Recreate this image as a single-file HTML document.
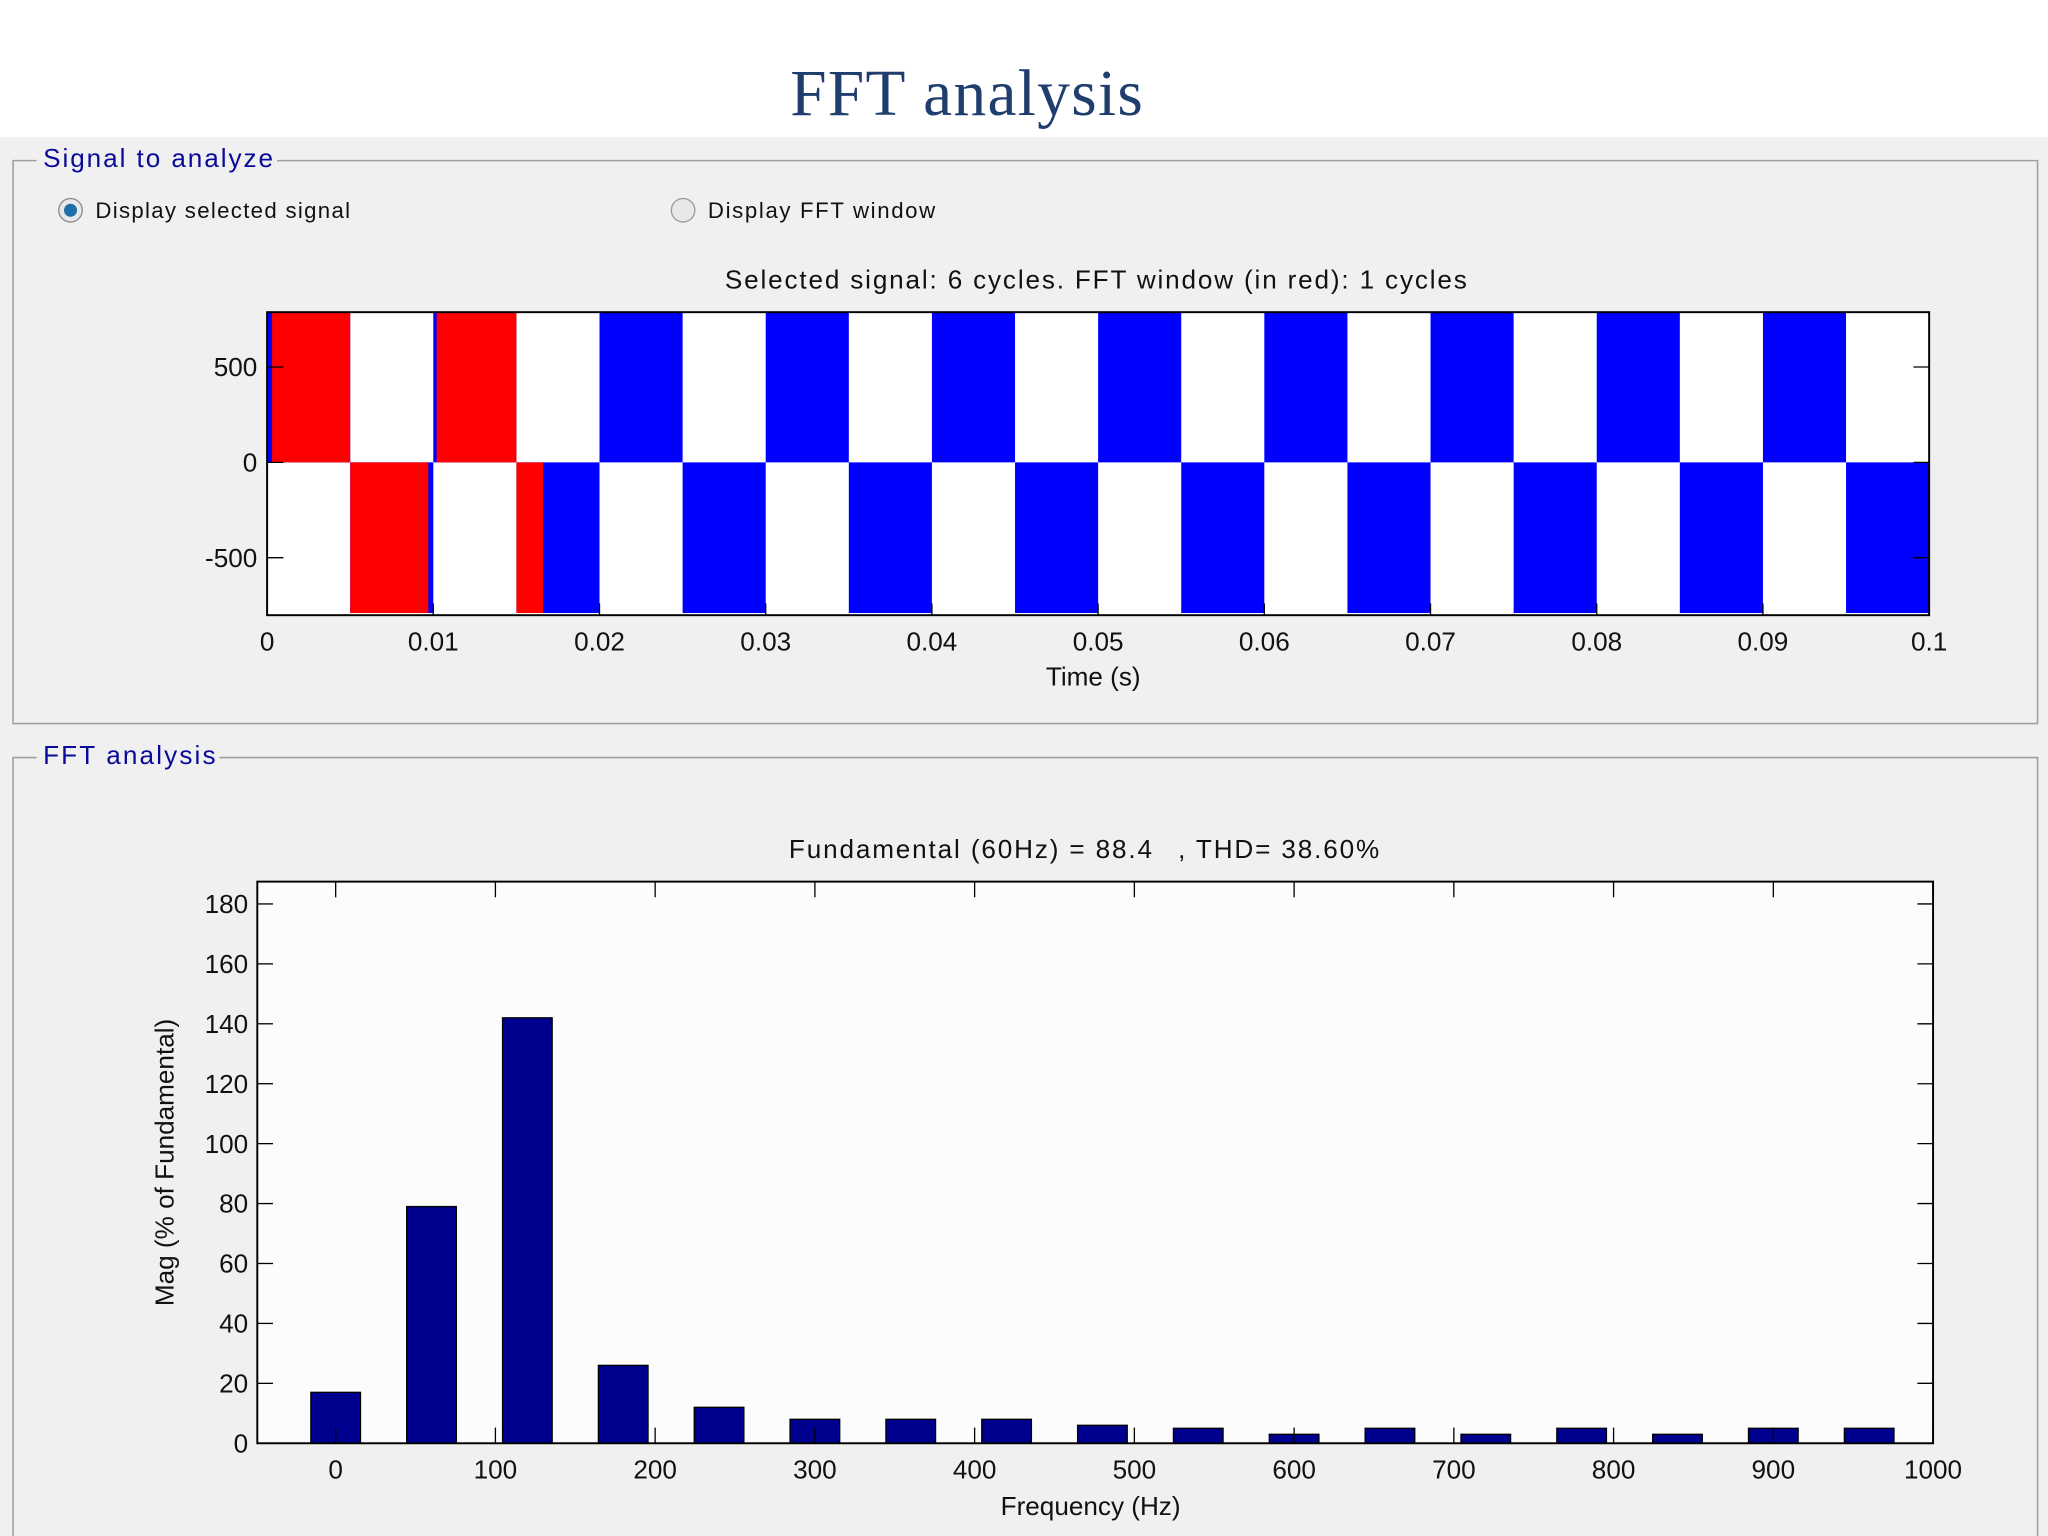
<!DOCTYPE html>
<html><head><meta charset="utf-8"><style>
html,body{margin:0;padding:0;background:#fff;}
svg{display:block;}
text{font-family:"Liberation Sans",sans-serif;}
</style></head><body>
<svg id="root" width="2048" height="1536" viewBox="0 0 1568 1176" xmlns="http://www.w3.org/2000/svg">
<rect x="0" y="0" width="1568" height="1176" fill="#ffffff"/>
<rect x="0" y="105" width="1568" height="1071" fill="#f0f0f0"/>
<text x="740" y="88" text-anchor="middle" font-size="50" fill="#1f3e6e" style="font-family:'Liberation Serif',serif" textLength="270">FFT analysis</text>

<g>
<path d="M28 123 H10 V554 H1560 V123 H212" fill="none" stroke="#a0a0a0" stroke-width="1.2"/>
<text x="33" y="128" font-size="20" fill="#0a0a9a" textLength="176">Signal to analyze</text>
</g>
<g>
<circle cx="54" cy="161" r="9" fill="#e8e8e8" stroke="#888"/>
<circle cx="54" cy="161" r="5" fill="#1d6fa8"/>
<text x="73" y="167" font-size="17" fill="#111" textLength="195">Display selected signal</text>
</g>
<g>
<circle cx="523" cy="161" r="9" fill="#e8e8e8" stroke="#999"/>
<text x="542" y="167" font-size="17" fill="#111" textLength="174">Display FFT window</text>
</g>
<text x="555" y="221" font-size="20" fill="#111" textLength="568">Selected signal: 6 cycles. FFT window (in red): 1 cycles</text>
<g id="topChart"></g>

<g>
<path d="M28 580 H10 V1176 M1560 1176 V580 H168" fill="none" stroke="#a0a0a0" stroke-width="1.2"/>
<text x="33" y="585" font-size="20" fill="#0a0a9a" textLength="132">FFT analysis</text>
</g>
<text x="604" y="657" font-size="20" fill="#111" textLength="278">Fundamental (60Hz) = 88.4</text>
<text x="902" y="657" font-size="20" fill="#111" textLength="154">, THD= 38.60%</text>
<g id="botChart"></g>
</svg>
<script>
// ---- top chart data ----
const halfPeriod = 0.005;
const timeEnd = 0.1;
const amplitude = 790;
const timeTicks = [0,0.01,0.02,0.03,0.04,0.05,0.06,0.07,0.08,0.09,0.1];
const timeTickLabels = ["0","0.01","0.02","0.03","0.04","0.05","0.06","0.07","0.08","0.09","0.1"];
const ampTicks = [500,0,-500];
const redStarts = [0.0003,0.0102];
const redEnds = [0.0097,0.0166];
// ---- bottom chart data ----
const freqs = [0,60,120,180,240,300,360,420,480,540,600,660,720,780,840,900,960];
const mags = [17,79,142,26,12,8,8,8,6,5,3,5,3,5,3,5,5];
const freqTicks = [0,100,200,300,400,500,600,700,800,900,1000];
const magTicks = [0,20,40,60,80,100,120,140,160,180];

const NS="http://www.w3.org/2000/svg";
function mk(parent,tag,attrs,txt){const e=document.createElementNS(NS,tag);for(const k in attrs)e.setAttribute(k,attrs[k]);if(txt!==undefined)e.textContent=txt;parent.appendChild(e);return e;}

// top axes
const tx = t => 204.5 + t/0.1*1272.5;
const ty = v => 354 - v*73/500;
const gTop = document.getElementById('topChart');
const pl=mk(gTop,'rect',{x:204.5,y:239,width:1272.5,height:232,fill:'#fff'});


const nHalf = Math.round(timeEnd/halfPeriod);
for(let i=0;i<nHalf;i++){
  const s = i%2===0?1:-1;
  const y0 = ty(s>0?amplitude:0), y1 = ty(s>0?0:-amplitude);
  const r=mk(gTop,'rect',{x:tx(i*halfPeriod),y:y0,width:tx((i+1)*halfPeriod)-tx(i*halfPeriod),height:y1-y0,fill:'#0000ff'});
  
  
}
for(let j=0;j<redStarts.length;j++){
  for(let i=0;i<nHalf;i++){
    const a=Math.max(i*halfPeriod,redStarts[j]), b=Math.min((i+1)*halfPeriod,redEnds[j]);
    if(b<=a) continue;
    const s=i%2===0?1:-1;
    const y0=ty(s>0?amplitude:0), y1=ty(s>0?0:-amplitude);
    const r=mk(gTop,'rect',{x:tx(a),y:y0,width:tx(b)-tx(a),height:y1-y0,fill:'#ff0000'});
    
    
  }
}
mk(gTop,'rect',{x:204.5,y:239,width:1272.5,height:232,fill:'none',stroke:'#000','stroke-width':1.5});
timeTicks.forEach((t,i)=>{
  mk(gTop,'line',{x1:tx(t),x2:tx(t),y1:471,y2:462,stroke:'#000'});
  const l=mk(gTop,'text',{x:tx(t),y:498,'text-anchor':'middle','font-size':20,fill:'#111'},timeTickLabels[i]);
  
  
});
ampTicks.forEach(v=>{
  mk(gTop,'line',{x1:204.5,x2:217,y1:ty(v),y2:ty(v),stroke:'#000'});
  mk(gTop,'line',{x1:1465,x2:1477,y1:ty(v),y2:ty(v),stroke:'#000'});
  const l=mk(gTop,'text',{x:197,y:ty(v)+7,'text-anchor':'end','font-size':20,fill:'#111'},String(v));
  
  
});
const xt=mk(gTop,'text',{x:837,y:525,'text-anchor':'middle','font-size':20,fill:'#111'},'Time (s)');



// bottom axes
const fx = f => 257 + f*1.223;
const my = m => 1105 - m*2.294;
const gBot=document.getElementById('botChart');
const bp=mk(gBot,'rect',{x:197,y:675,width:1283,height:430,fill:'#fcfcfc'});


freqs.forEach((f,i)=>{
  const w=38;
  const b=mk(gBot,'rect',{x:fx(f)-w/2,y:my(mags[i]),width:w,height:my(0)-my(mags[i]),fill:'#00008f',stroke:'#000','stroke-width':1});
  
  
});
mk(gBot,'rect',{x:197,y:675,width:1283,height:430,fill:'none',stroke:'#000','stroke-width':1.5});
freqTicks.forEach(f=>{
  mk(gBot,'line',{x1:fx(f),x2:fx(f),y1:1105,y2:1093,stroke:'#000'});
  mk(gBot,'line',{x1:fx(f),x2:fx(f),y1:675,y2:687,stroke:'#000'});
  const l=mk(gBot,'text',{x:fx(f),y:1132,'text-anchor':'middle','font-size':20,fill:'#111'},String(f));
  
  
});
magTicks.forEach(m=>{
  mk(gBot,'line',{x1:197,x2:209,y1:my(m),y2:my(m),stroke:'#000'});
  mk(gBot,'line',{x1:1468,x2:1480,y1:my(m),y2:my(m),stroke:'#000'});
  const l=mk(gBot,'text',{x:190,y:my(m)+7,'text-anchor':'end','font-size':20,fill:'#111'},String(m));
  
  
});
const fxT=mk(gBot,'text',{x:835,y:1160,'text-anchor':'middle','font-size':20,fill:'#111'},'Frequency (Hz)');


const fyT=mk(gBot,'text',{x:0,y:0,'text-anchor':'middle','font-size':20,fill:'#111',transform:'translate(133,890) rotate(-90)'},'Mag (% of Fundamental)');


</script>
</body></html>
